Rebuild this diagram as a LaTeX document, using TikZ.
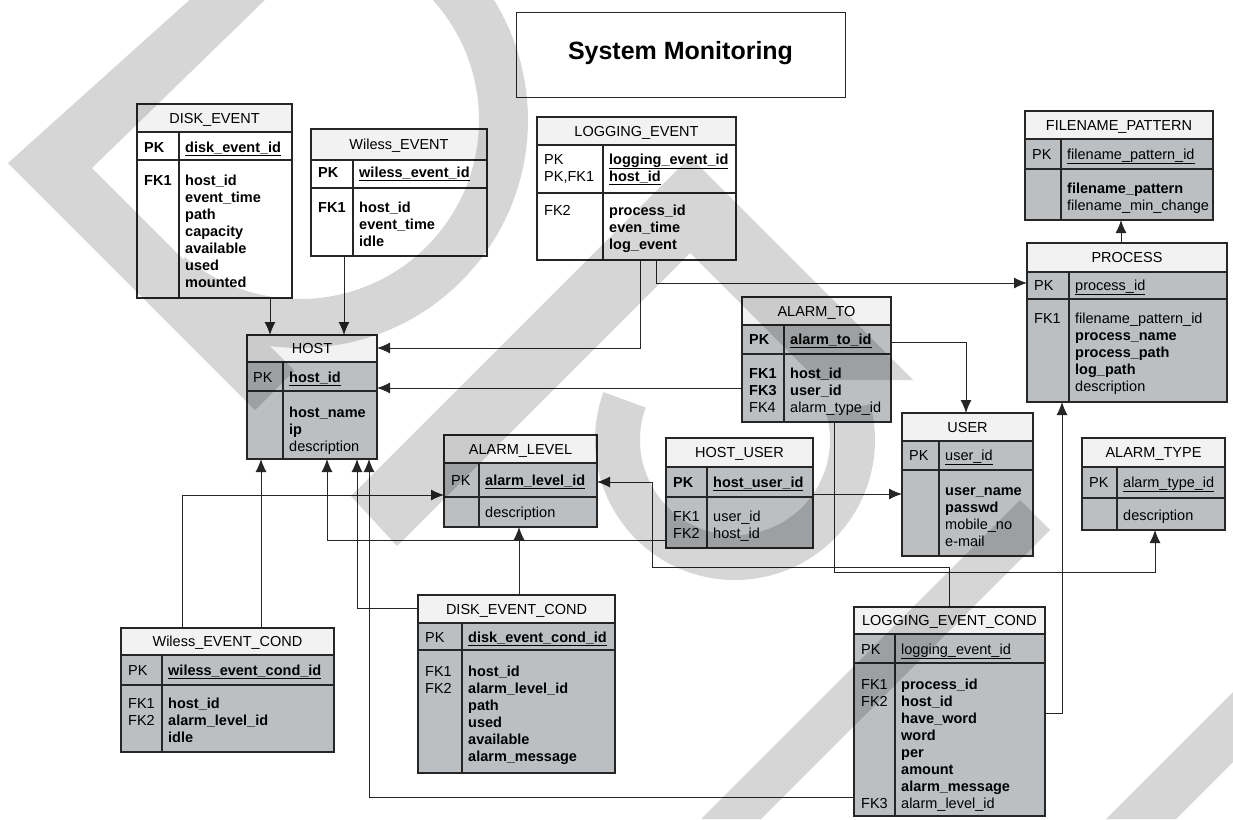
\documentclass[tikz,border=0pt]{standalone}
\usepackage{fontspec}
\setmainfont{Liberation Sans}
\usetikzlibrary{arrows.meta}

\definecolor{rowgray}{RGB}{188,191,194}
\definecolor{headwhite}{RGB}{242,242,242}

\tikzset{
  tabline/.style={draw=black!85, line width=1.1pt},
  fk/.style={draw=black!85, line width=1pt, -{Latex[length=13pt,width=11pt]}},
  ttl/.style={anchor=base, inner sep=0pt, font=\fontsize{14.5}{17}\selectfont},
  fld/.style={anchor=base west, inner sep=0pt, font=\fontsize{14.5}{17}\selectfont},
  bigttl/.style={anchor=base, inner sep=0pt, font=\fontsize{25}{30}\selectfont\bfseries},
}

% table frame: name, x1, y1, x2, y2, divider x, header bottom, key row bottom, row colour
\newcommand{\ertable}[9]{%
  \fill[headwhite] (#2,#3) rectangle (#4,#7);
  \fill[#9] (#2,#7) rectangle (#4,#5);
  \node[tabline, anchor=north west, inner sep=0pt, outer sep=0pt,
        minimum width={(#4-#2)*1pt}, minimum height={(#5-#3)*1pt}] (#1) at (#2,#3) {};
  \draw[tabline] (#2,#7) -- (#4,#7) (#2,#8) -- (#4,#8) (#6,#7) -- (#6,#5);
}
% column of lines: name prefix, x, first baseline, list
\newcommand{\fieldlist}[4]{%
  \foreach \fldtext [count=\fldi from 0] in {#4} {\node[fld] (#1\fldi) at (#2,{#3+17*\fldi}) {\fldtext};}%
}

\begin{document}
\begin{tikzpicture}[x=1pt,y=-1pt]
\useasboundingbox (0,0) rectangle (1233,819);
\fill[white] (0,0) rectangle (1233,819);

% title
\node[draw=black!85, line width=1.3pt, fill=white, anchor=north west, inner sep=0pt,
      minimum width=329pt, minimum height=85pt] (title) at (516,12) {};
\node[bigttl] (title-t) at (680.5,59) {System Monitoring};

% DISK_EVENT
\ertable{dskev}{137}{104}{292}{298}{179}{132}{160}{white}
\node[ttl] (dskev-t) at (214.5,123) {DISK\_EVENT};
\node[fld] (dskev-pk) at (144,152) {\textbf{PK}};
\node[fld] (dskev-pf) at (185,152) {\textbf{\underline{disk\_event\_id}}};
\node[fld] (dskev-fk) at (144,185) {\textbf{FK1}};
\fieldlist{dskev-f}{185}{185}{\textbf{host\_id},\textbf{event\_time},\textbf{path},\textbf{capacity},\textbf{available},\textbf{used},\textbf{mounted}}

% Wiless_EVENT
\ertable{wlsev}{311}{129}{487}{256}{353}{160}{188}{white}
\node[ttl] (wlsev-t) at (399,149.5) {Wiless\_EVENT};
\node[fld] (wlsev-pk) at (318,177) {\textbf{PK}};
\node[fld] (wlsev-pf) at (359,177) {\textbf{\underline{wiless\_event\_id}}};
\node[fld] (wlsev-fk) at (318,212) {\textbf{FK1}};
\fieldlist{wlsev-f}{359}{212}{\textbf{host\_id},\textbf{event\_time},\textbf{idle}}

% LOGGING_EVENT
\ertable{logev}{537}{117}{736}{260}{603}{145}{193}{white}
\node[ttl] (logev-t) at (636.5,136) {LOGGING\_EVENT};
\fieldlist{logev-k}{544}{164}{PK,{PK,FK1}}
\fieldlist{logev-p}{609}{164}{\textbf{\underline{logging\_event\_id}},\textbf{\underline{host\_id}}}
\node[fld] (logev-fk) at (544,215) {FK2};
\fieldlist{logev-f}{609}{215}{\textbf{process\_id},\textbf{even\_time},\textbf{log\_event}}

% FILENAME_PATTERN
\ertable{fnpat}{1025}{111}{1213}{220}{1061}{139}{169}{rowgray}
\node[ttl] (fnpat-t) at (1119,130) {FILENAME\_PATTERN};
\node[fld] (fnpat-pk) at (1032,159) {PK};
\node[fld] (fnpat-pf) at (1067,159) {\underline{filename\_pattern\_id}};
\fieldlist{fnpat-f}{1067}{193}{\textbf{filename\_pattern},filename\_min\_change}

% PROCESS
\ertable{proc}{1027}{243}{1227}{402}{1069}{272}{299}{rowgray}
\node[ttl] (proc-t) at (1127,262.5) {PROCESS};
\node[fld] (proc-pk) at (1034,290) {PK};
\node[fld] (proc-pf) at (1075,290) {\underline{process\_id}};
\node[fld] (proc-fk) at (1034,323) {FK1};
\fieldlist{proc-f}{1075}{323}{filename\_pattern\_id,\textbf{process\_name},\textbf{process\_path},\textbf{log\_path},description}

% HOST
\ertable{host}{247}{335}{377}{459}{283}{362}{391}{rowgray}
\node[ttl] (host-t) at (312,353.5) {HOST};
\node[fld] (host-pk) at (253,382) {PK};
\node[fld] (host-pf) at (289,382) {\textbf{\underline{host\_id}}};
\fieldlist{host-f}{289}{417}{\textbf{host\_name},\textbf{ip},description}

% ALARM_LEVEL
\ertable{alvl}{444}{435}{597}{527}{479}{463}{497}{rowgray}
\node[ttl] (alvl-t) at (520.5,454) {ALARM\_LEVEL};
\node[fld] (alvl-pk) at (451,485) {PK};
\node[fld] (alvl-pf) at (485,485) {\textbf{\underline{alarm\_level\_id}}};
\node[fld] (alvl-f0) at (485,517) {description};

% ALARM_TO
\ertable{alto}{742}{297}{891}{422}{784}{325}{354}{rowgray}
\node[ttl] (alto-t) at (816.5,316) {ALARM\_TO};
\node[fld] (alto-pk) at (749,344) {\textbf{PK}};
\node[fld] (alto-pf) at (790,344) {\textbf{\underline{alarm\_to\_id}}};
\fieldlist{alto-k}{749}{378}{\textbf{FK1},\textbf{FK3},FK4}
\fieldlist{alto-f}{790}{378}{\textbf{host\_id},\textbf{user\_id},alarm\_type\_id}

% HOST_USER
\ertable{hsus}{666}{438}{813}{548}{707}{467}{497}{rowgray}
\node[ttl] (hsus-t) at (739.5,457.5) {HOST\_USER};
\node[fld] (hsus-pk) at (673,487) {\textbf{PK}};
\node[fld] (hsus-pf) at (713,487) {\textbf{\underline{host\_user\_id}}};
\fieldlist{hsus-k}{673}{521}{FK1,FK2}
\fieldlist{hsus-f}{713}{521}{user\_id,host\_id}

% USER
\ertable{user}{902}{413}{1033}{556}{939}{441}{470}{rowgray}
\node[ttl] (user-t) at (967.5,432) {USER};
\node[fld] (user-pk) at (909,460) {PK};
\node[fld] (user-pf) at (945,460) {\underline{user\_id}};
\fieldlist{user-f}{945}{495}{\textbf{user\_name},\textbf{passwd},mobile\_no,e-mail}

% ALARM_TYPE
\ertable{alty}{1082}{438}{1225}{530}{1117}{467}{498}{rowgray}
\node[ttl] (alty-t) at (1153.5,457.5) {ALARM\_TYPE};
\node[fld] (alty-pk) at (1089,487) {PK};
\node[fld] (alty-pf) at (1123,487) {\underline{alarm\_type\_id}};
\node[fld] (alty-f0) at (1123,520) {description};

% Wiless_EVENT_COND
\ertable{wlscd}{121}{628}{334}{752}{162}{655}{685}{rowgray}
\node[ttl] (wlscd-t) at (227.5,646.5) {Wiless\_EVENT\_COND};
\node[fld] (wlscd-pk) at (128,675) {PK};
\node[fld] (wlscd-pf) at (168,675) {\textbf{\underline{wiless\_event\_cond\_id}}};
\fieldlist{wlscd-k}{128}{708}{FK1,FK2}
\fieldlist{wlscd-f}{168}{708}{\textbf{host\_id},\textbf{alarm\_level\_id},\textbf{idle}}

% DISK_EVENT_COND
\ertable{dskcd}{418}{595}{615}{773}{462}{623}{650}{rowgray}
\node[ttl] (dskcd-t) at (516.5,614) {DISK\_EVENT\_COND};
\node[fld] (dskcd-pk) at (425,642) {PK};
\node[fld] (dskcd-pf) at (468,642) {\textbf{\underline{disk\_event\_cond\_id}}};
\fieldlist{dskcd-k}{425}{676}{FK1,FK2}
\fieldlist{dskcd-f}{468}{676}{\textbf{host\_id},\textbf{alarm\_level\_id},\textbf{path},\textbf{used},\textbf{available},\textbf{alarm\_message}}

% LOGGING_EVENT_COND
\ertable{logcd}{854}{607}{1045}{816}{895}{634}{663}{rowgray}
\node[ttl] (logcd-t) at (949.5,625.5) {LOGGING\_EVENT\_COND};
\node[fld] (logcd-pk) at (861,654) {PK};
\node[fld] (logcd-pf) at (901,654) {\underline{logging\_event\_id}};
\fieldlist{logcd-k}{861}{689}{FK1,FK2}
\node[fld] (logcd-k7) at (861,808) {FK3};
\fieldlist{logcd-f}{901}{689}{\textbf{process\_id},\textbf{host\_id},\textbf{have\_word},\textbf{word},\textbf{per},\textbf{amount},\textbf{alarm\_message},alarm\_level\_id}

% relationship routing points
\coordinate (kA) at (270,0);
\coordinate (kB) at (344,0);
\coordinate (kC) at (640,348);
\coordinate (kD) at (656,283);
\coordinate (kE) at (1121,0);
\coordinate (kF) at (0,388);
\coordinate (kG) at (966,342);
\coordinate (kH1) at (834,572);
\coordinate (kH2) at (1155,572);
\coordinate (kI) at (0,494);
\coordinate (kJ) at (327,540);
\coordinate (kK) at (182,495);
\coordinate (kL) at (261,0);
\coordinate (kM) at (519,0);
\coordinate (kN) at (357,608);
\coordinate (kO) at (369,797);
\coordinate (kP1) at (949,567);
\coordinate (kP2) at (652,567);
\coordinate (kP3) at (652,482);
\coordinate (kQ) at (1062,713);

% relationships
\draw[fk] (dskev.south -| kA) -- (host.north -| kA);
\draw[fk] (wlsev.south -| kB) -- (host.north -| kB);
\draw[fk] (logev.south -| kC) -- (kC) -- (host.east |- kC);
\draw[fk] (logev.south -| kD) -- (kD) -- (proc.west |- kD);
\draw[fk] (proc.north -| kE) -- (fnpat.south -| kE);
\draw[fk] (alto.west |- kF) -- (host.east |- kF);
\draw[fk] (alto.east |- kG) -- (kG) -- (user.north -| kG);
\draw[fk] (alto.south -| kH1) -- (kH1) -- (kH2) -- (alty.south -| kH2);
\draw[fk] (hsus.east |- kI) -- (user.west |- kI);
\draw[fk] (hsus.west |- kJ) -- (kJ) -- (host.south -| kJ);
\draw[fk] (wlscd.north -| kK) -- (kK) -- (alvl.west |- kK);
\draw[fk] (wlscd.north -| kL) -- (host.south -| kL);
\draw[fk] (dskcd.north -| kM) -- (alvl.south -| kM);
\draw[fk] (dskcd.west |- kN) -- (kN) -- (host.south -| kN);
\draw[fk] (logcd.west |- kO) -- (kO) -- (host.south -| kO);
\draw[fk] (logcd.north -| kP1) -- (kP1) -- (kP2) -- (kP3) -- (alvl.east |- kP3);
\draw[fk] (logcd.east |- kQ) -- (kQ) -- (proc.south -| kQ);

% light grey letter strokes lying over the sheet
\begin{scope}
\clip (0,0) rectangle (1233,819);
\fill[black, opacity=0.16]
  (195,-5) -- (270,-5) -- (92,168) -- (294.5,370.5) -- (255,410) -- (8,163) -- cycle
  (446.56,-54.66) arc[start angle=-50, end angle=130, radius=228]
     -- (184.94,257.12) arc[start angle=130, end angle=-50, radius=179] -- cycle
  (690,157) -- (913,380) -- (817,380) -- (690,253) -- (397,546) -- (351,496) -- cycle
  (870.2,403.8) arc[start angle=-15, end angle=200, radius=140]
     -- (645.7,407.5) arc[start angle=200, end angle=-15, radius=95] -- cycle
  (1020,500) -- (1050,530) -- (761,819) -- (701,819) -- cycle
  (1233,692) -- (1233,762) -- (1176,819) -- (1106,819) -- cycle;
\end{scope}
\end{tikzpicture}
\end{document}
